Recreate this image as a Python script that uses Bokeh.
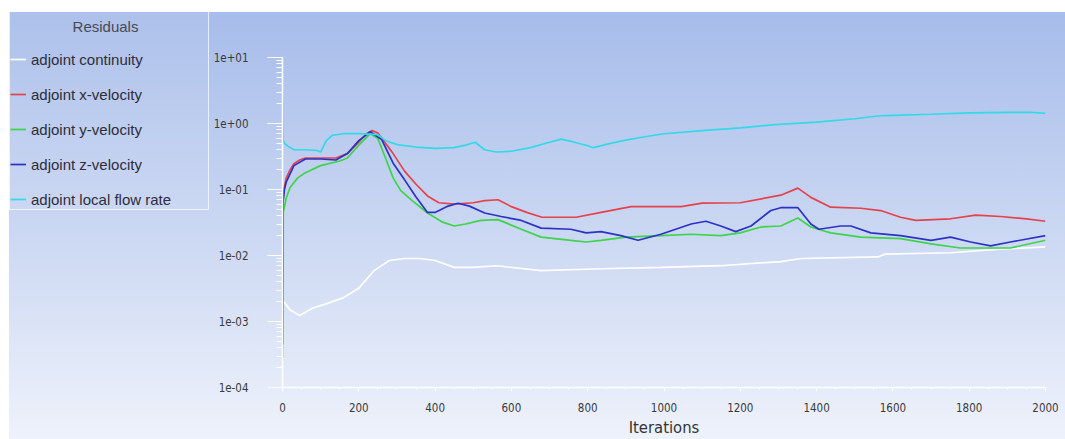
from bokeh.plotting import figure
from bokeh.layouts import row
from bokeh.models import Legend, LegendItem, Label, FixedTicker, CustomJSTickFormatter, Div
from bokeh.embed import file_html
from bokeh.resources import INLINE

# ---------------- data ----------------
cont_it = [0, 20, 45, 80, 120, 160, 200, 240, 280, 320, 360, 400, 450, 500, 560, 678, 835, 992, 1149, 1306, 1359, 1560, 1580, 1751, 1882, 2000]
cont_val = [2.1e-3, 1.5e-3, 1.23e-3, 1.6e-3, 1.9e-3, 2.3e-3, 3.2e-3, 5.9e-3, 8.4e-3, 9.0e-3, 9.0e-3, 8.4e-3, 6.6e-3, 6.6e-3, 7.0e-3, 5.9e-3, 6.3e-3, 6.6e-3, 7.0e-3, 8.1e-3, 9.0e-3, 9.5e-3, 1.05e-2, 1.1e-2, 1.25e-2, 1.35e-2]

xv_it = [0, 1, 5, 10, 20, 30, 45, 60, 100, 140, 170, 200, 220, 235, 250, 270, 290, 320, 350, 380, 410, 450, 500, 530, 565, 600, 640, 680, 770, 835, 914, 1045, 1100, 1200, 1306, 1351, 1385, 1437, 1516, 1568, 1620, 1660, 1751, 1817, 1882, 1950, 2000]
xv_val = [4.5e-3, 0.07, 0.11, 0.15, 0.2, 0.245, 0.28, 0.3, 0.3, 0.3, 0.35, 0.52, 0.7, 0.78, 0.72, 0.5, 0.35, 0.19, 0.12, 0.08, 0.063, 0.06, 0.063, 0.068, 0.07, 0.055, 0.045, 0.038, 0.038, 0.045, 0.055, 0.055, 0.062, 0.063, 0.082, 0.105, 0.076, 0.054, 0.052, 0.048, 0.038, 0.034, 0.036, 0.041, 0.039, 0.036, 0.033]

yv_it = [0, 2, 10, 20, 40, 60, 100, 150, 170, 200, 230, 250, 270, 290, 310, 340, 380, 420, 450, 480, 520, 565, 626, 678, 756, 796, 835, 900, 992, 1071, 1149, 1200, 1254, 1306, 1351, 1385, 1437, 1516, 1620, 1700, 1777, 1856, 1908, 2000]
yv_val = [2.8e-4, 0.045, 0.075, 0.107, 0.15, 0.18, 0.23, 0.27, 0.30, 0.47, 0.70, 0.59, 0.30, 0.15, 0.096, 0.068, 0.044, 0.032, 0.028, 0.030, 0.034, 0.035, 0.025, 0.019, 0.017, 0.016, 0.017, 0.019, 0.020, 0.021, 0.020, 0.022, 0.027, 0.028, 0.037, 0.027, 0.022, 0.019, 0.018, 0.015, 0.013, 0.013, 0.013, 0.017]

zv_it = [0, 1, 5, 10, 30, 60, 100, 140, 170, 200, 230, 260, 290, 320, 350, 380, 400, 430, 460, 490, 530, 573, 626, 678, 756, 796, 835, 887, 932, 992, 1071, 1110, 1149, 1188, 1228, 1280, 1306, 1351, 1385, 1406, 1463, 1490, 1542, 1620, 1700, 1751, 1804, 1856, 1908, 2000]
zv_val = [4.5e-4, 0.06, 0.1, 0.13, 0.23, 0.29, 0.29, 0.28, 0.35, 0.55, 0.75, 0.57, 0.25, 0.14, 0.077, 0.045, 0.045, 0.055, 0.062, 0.056, 0.044, 0.039, 0.034, 0.026, 0.025, 0.022, 0.023, 0.020, 0.017, 0.021, 0.030, 0.033, 0.028, 0.023, 0.028, 0.048, 0.053, 0.053, 0.030, 0.025, 0.028, 0.028, 0.022, 0.020, 0.017, 0.019, 0.016, 0.014, 0.016, 0.020]

fr_it = [0, 2, 5, 15, 30, 60, 90, 100, 115, 130, 160, 200, 250, 270, 300, 350, 400, 450, 480, 505, 530, 560, 600, 650, 700, 730, 760, 800, 815, 860, 900, 950, 1000, 1100, 1200, 1300, 1400, 1500, 1560, 1600, 1700, 1800, 1900, 1960, 2000]
fr_val = [3.0, 0.55, 0.5, 0.45, 0.40, 0.40, 0.39, 0.37, 0.55, 0.66, 0.70, 0.70, 0.68, 0.55, 0.48, 0.44, 0.42, 0.43, 0.47, 0.52, 0.40, 0.37, 0.38, 0.43, 0.52, 0.58, 0.53, 0.46, 0.43, 0.50, 0.56, 0.63, 0.70, 0.78, 0.86, 0.97, 1.05, 1.18, 1.3, 1.33, 1.38, 1.45, 1.47, 1.48, 1.42]

series_names = ["adjoint continuity", "adjoint x-velocity", "adjoint y-velocity",
                "adjoint z-velocity", "adjoint local flow rate"]
series_colors = ["#ffffff", "#e5424c", "#3ed44a", "#2c33c4", "#33d9e6"]

y_major = [1e-4, 1e-3, 1e-2, 1e-1, 1e0, 1e1]
x_major = list(range(0, 2001, 200))

# ---------------- styling ----------------
FONT = "DejaVu Sans Condensed"
LFONT = "Liberation Sans"
GRAD = "linear-gradient(to bottom, #ffffff 12px, #a6bcea 12px, #eef2fb 100%)"
LGRAD = "linear-gradient(to right, #ffffff 9px, rgba(255,255,255,0) 9px), " + GRAD
H = 439

# ---------------- main chart ----------------
p = figure(width=855, height=H, y_axis_type="log",
           x_range=(0, 2000), y_range=(1e-4, 10),
           output_backend="svg", toolbar_location=None,
           min_border_left=71, min_border_right=20,
           min_border_top=57, min_border_bottom=52,
           background_fill_alpha=0, border_fill_alpha=0,
           outline_line_color=None,
           styles={"background": GRAD})
p.grid.visible = False

minor = [m * d for d in y_major[:-1] for m in range(2, 10)]
p.yaxis.ticker = FixedTicker(ticks=y_major, minor_ticks=minor)
p.yaxis.formatter = CustomJSTickFormatter(code="""
const s = tick.toExponential(0); const parts = s.split('e');
let e = parts[1]; const sign = e[0]; let d = e.slice(1);
if (d.length < 2) { d = '0' + d; }
return parts[0] + 'e' + sign + d;
""")
p.xaxis.ticker = FixedTicker(ticks=x_major, minor_ticks=list(range(0, 2001, 50)))

for ax in (p.xaxis[0], p.yaxis[0]):
    ax.axis_line_color = "#ffffff"
    ax.axis_line_width = 1.5
    ax.major_tick_line_color = "#ffffff"
    ax.minor_tick_line_color = "#ffffff"
    ax.major_label_text_font = FONT
    ax.major_label_text_color = "#3a3a3a"
    ax.major_label_text_font_size = "11.5px"
    ax.major_tick_in = 0
    ax.minor_tick_in = 0

p.yaxis.major_tick_out = 15
p.yaxis.minor_tick_out = 6
p.yaxis.major_label_standoff = 19

p.xaxis.major_tick_out = 4
p.xaxis.minor_tick_out = 2
p.xaxis.major_label_standoff = 11
p.xaxis.axis_label = "Iterations"
p.xaxis.axis_label_text_font = FONT
p.xaxis.axis_label_text_font_size = "16.5px"
p.xaxis.axis_label_text_font_style = "normal"
p.xaxis.axis_label_text_color = "#333333"
p.xaxis.axis_label_standoff = 3

all_it = [cont_it, xv_it, yv_it, zv_it, fr_it]
all_val = [cont_val, xv_val, yv_val, zv_val, fr_val]
for it, val, col in zip(all_it, all_val, series_colors):
    p.line(it, val, line_color=col, line_width=1.7)

# ---------------- legend panel (left strip) ----------------
lg = figure(width=210, height=H, x_range=(0, 1), y_range=(0, 1),
            output_backend="svg", toolbar_location=None,
            x_axis_location=None, y_axis_location=None,
            min_border=0, min_border_left=0, min_border_right=0,
            min_border_top=0, min_border_bottom=0,
            background_fill_alpha=0, border_fill_alpha=0,
            outline_line_color=None,
            styles={"background": LGRAD})
lg.grid.visible = False

use_figure_legend = True
try:
    lg.frame_align = False
except Exception:
    use_figure_legend = False

if use_figure_legend:
    # legend-only renderers: their points sit outside the (0..1) view, only the legend glyphs show
    dummy = [lg.line([5, 6], [5, 6], line_color=c, line_width=1.7) for c in series_colors]
    items = [LegendItem(label=n, renderers=[r]) for n, r in zip(series_names, dummy)]
    legend = Legend(items=items, location=(9, H - 210), padding=0, margin=0,
                    spacing=15, glyph_width=16, glyph_height=20, label_height=20,
                    label_standoff=5, label_width=177,
                    label_text_font=LFONT, label_text_font_size="15px",
                    label_text_color="#2e2e3a",
                    title="Residuals", title_text_alpha=0, title_text_font_size="13px",
                    title_standoff=23,
                    border_line_color="#ffffff", border_line_alpha=0.7,
                    background_fill_color="#ffffff", background_fill_alpha=0.08)
    lg.add_layout(legend)
    lg.add_layout(Label(x=105, y=H - 26, x_units="screen", y_units="screen",
                        text="Residuals", text_align="center", text_baseline="middle",
                        text_font=LFONT, text_font_size="15px", text_color="#3a3a46"))
    left = lg
else:
    rows = "".join(
        f'<div style="position:absolute;left:0;top:{38 + 35 * i}px;height:20px;display:flex;align-items:center;">'
        f'<span style="display:inline-block;width:16px;height:2px;background:{c};"></span>'
        f'<span style="margin-left:5px;font:15px {LFONT};color:#2e2e3a;">{n}</span></div>'
        for i, (n, c) in enumerate(zip(series_names, series_colors)))
    html = (f'<div style="position:relative;width:198px;height:205px;margin:12px 0 0 9px;'
            f'border:1px solid rgba(255,255,255,0.7);background:rgba(255,255,255,0.08);box-sizing:border-box;">'
            f'<div style="position:absolute;top:6px;width:100%;text-align:center;font:15px {LFONT};color:#3a3a46;">Residuals</div>'
            + rows + '</div>')
    left = Div(text=html, width=210, height=H, styles={"background": LGRAD})

layout = row(left, p, spacing=0)
open("out.html", "w").write(file_html(layout, INLINE))
